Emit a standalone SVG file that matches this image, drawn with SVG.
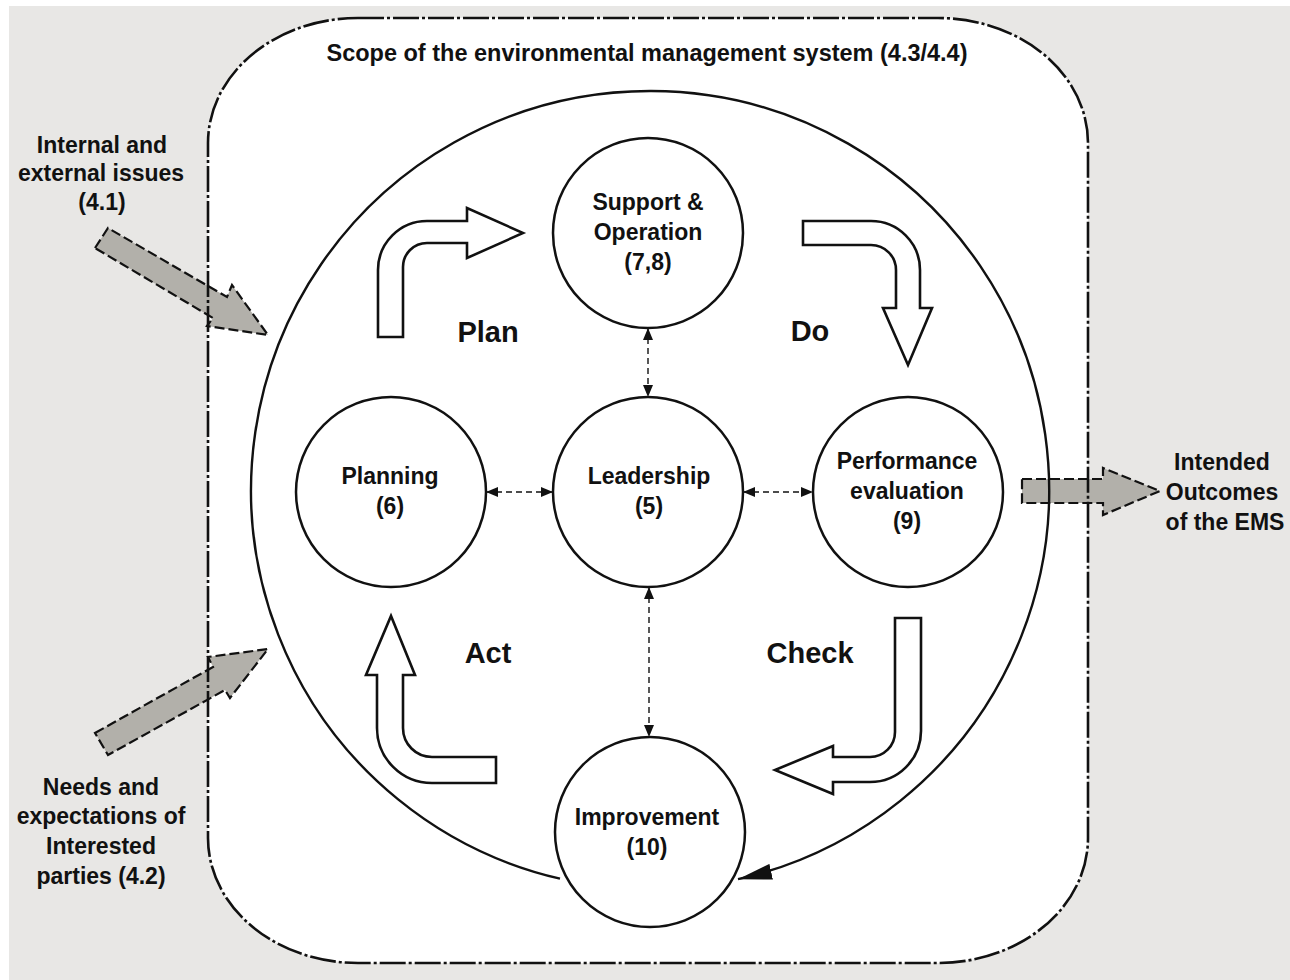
<svg xmlns="http://www.w3.org/2000/svg" width="1290" height="980" viewBox="0 0 1290 980">
<defs>
<style>
text{font-family:"Liberation Sans",Arial,sans-serif;fill:#111;text-anchor:middle}
.lbl{font-size:23px;font-weight:bold}
.phase{font-size:29px;font-weight:bold}
.node{fill:#fff;stroke:#111;stroke-width:2.5}
.hollow{fill:#fff;stroke:#111;stroke-width:2.6;stroke-linejoin:miter}
.grey{fill:#b2b0aa;stroke:#111;stroke-width:2.2;stroke-dasharray:10 4}
.dd{fill:none;stroke:#111;stroke-width:1.4;stroke-dasharray:6 4;marker-start:url(#ah);marker-end:url(#ah)}
</style>
<marker id="ah" viewBox="0 0 12 10" refX="12" refY="5" markerWidth="12" markerHeight="10" markerUnits="userSpaceOnUse" orient="auto-start-reverse">
<path d="M0,0 L12,5 L0,10 Z" fill="#111"/>
</marker>
<marker id="bigah" viewBox="0 0 34 16" refX="34" refY="8" markerWidth="34" markerHeight="16" markerUnits="userSpaceOnUse" orient="auto">
<path d="M0,0 L34,8 L0,16 Z" fill="#111"/>
</marker>
</defs>
<rect x="0" y="0" width="1290" height="980" fill="#fff"/>
<rect x="9" y="6" width="1281" height="974" fill="#e8e7e5"/>
<g id="scope">
<rect x="208" y="18" width="880" height="945" rx="150" ry="125" fill="#fff"/>
</g>
<g id="inputs">
<path class="grey" d="M95,248 L108,228 L227,297 L232,285 L268,335 L207,326 L213,318 Z"/>
<path class="grey" d="M95,733 L213,667 L208,657 L268,649 L230,698 L225,690 L108,755 Z"/>
<path class="grey" d="M1022,479 L1103,479 L1103,468 L1160,491 L1103,515 L1103,503 L1022,503 Z"/>
</g>
<g id="scope-border">
<rect x="208" y="18" width="880" height="945" rx="150" ry="125" fill="none" stroke="#111" stroke-width="2.6" stroke-dasharray="26 3 3 3"/>
<text x="647" y="61" class="lbl" textLength="641" lengthAdjust="spacingAndGlyphs">Scope of the environmental management system (4.3/4.4)</text>
</g>
<g id="connectors">
<path d="M560,878.7 A399,399 0 1 1 738,879.2" fill="none" stroke="#111" stroke-width="2.4" marker-end="url(#bigah)"/>
<line class="dd" x1="648" y1="328" x2="648" y2="397"/>
<line class="dd" x1="649" y1="587" x2="649" y2="737"/>
<line class="dd" x1="486" y1="492" x2="553" y2="492"/>
<line class="dd" x1="743" y1="492" x2="813" y2="492"/>
</g>
<g id="cycle-arrows">
<path class="hollow" d="M378,337 L378,270 A49,49 0 0 1 427,221 L467,221 L467,208 L523,233 L467,258 L467,243 L427,243 A24,24 0 0 0 403,267 L403,337 Z"/>
<path class="hollow" d="M803,221 L871,221 A49,49 0 0 1 920,270 L920,308 L932,308 L908,365 L883,308 L896,308 L896,270 A25,25 0 0 0 871,245 L803,245 Z"/>
<path class="hollow" d="M895,618 L921,618 L921,731 A51,51 0 0 1 870,782 L833,782 L833,794 L775,770 L833,746 L833,757 L870,757 A25,25 0 0 0 895,732 Z"/>
<path class="hollow" d="M377,675 L366,675 L391,616 L415,675 L403,675 L403,728 A29,29 0 0 0 432,757 L496,757 L496,783 L432,783 A55,55 0 0 1 377,728 Z"/>
</g>
<g id="phases">
<text class="phase" x="488" y="342">Plan</text>
<text class="phase" x="810" y="341">Do</text>
<text class="phase" x="488" y="663">Act</text>
<text class="phase" x="810" y="663">Check</text>
</g>
<g id="support">
<circle class="node" cx="648" cy="233" r="95"/>
<text class="lbl" x="648" y="210">Support &amp;</text>
<text class="lbl" x="648" y="240">Operation</text>
<text class="lbl" x="648" y="270">(7,8)</text>
</g>
<g id="leadership">
<circle class="node" cx="648" cy="492" r="95"/>
<text class="lbl" x="649" y="484">Leadership</text>
<text class="lbl" x="649" y="514">(5)</text>
</g>
<g id="planning">
<circle class="node" cx="391" cy="492" r="95"/>
<text class="lbl" x="390" y="484">Planning</text>
<text class="lbl" x="390" y="514">(6)</text>
</g>
<g id="performance">
<circle class="node" cx="908" cy="492" r="95"/>
<text class="lbl" x="907" y="469">Performance</text>
<text class="lbl" x="907" y="499">evaluation</text>
<text class="lbl" x="907" y="529">(9)</text>
</g>
<g id="improvement">
<circle class="node" cx="650" cy="832" r="95"/>
<text class="lbl" x="647" y="825">Improvement</text>
<text class="lbl" x="647" y="855">(10)</text>
</g>
<g id="issues">
<text class="lbl" x="102" y="153">Internal and</text>
<text class="lbl" x="101" y="181">external issues</text>
<text class="lbl" x="102" y="210">(4.1)</text>
</g>
<g id="parties">
<text class="lbl" x="101" y="795">Needs and</text>
<text class="lbl" x="101" y="824">expectations of</text>
<text class="lbl" x="101" y="854">Interested</text>
<text class="lbl" x="101" y="884">parties (4.2)</text>
</g>
<g id="outcomes">
<text class="lbl" x="1222" y="470">Intended</text>
<text class="lbl" x="1222" y="500">Outcomes</text>
<text class="lbl" x="1225" y="530">of the EMS</text>
</g>
</svg>
